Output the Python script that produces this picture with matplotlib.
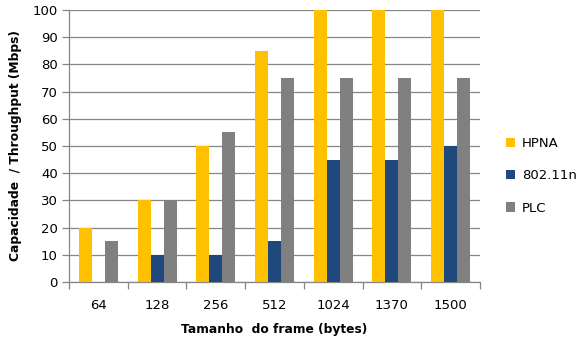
import matplotlib
matplotlib.use("Agg")
import matplotlib.pyplot as plt
import numpy as np

frame_sizes = ["64", "128", "256", "512", "1024", "1370", "1500"]
hpna = [20, 30, 50, 85, 100, 100, 100]
wifi_n = [0, 10, 10, 15, 45, 45, 50]
plc = [15, 30, 55, 75, 75, 75, 75]
series_names = ["HPNA", "802.11n", "PLC"]
colors = ["#FFC000", "#1F497D", "#808080"]

plt.rcParams['font.family'] = ['DejaVu Sans']

fig = plt.figure(figsize=(5.78, 3.44), dpi=100)
ax = fig.add_axes([69/578, 1 - 282/344, (480-69)/578, (282-10)/344])

x = np.arange(len(frame_sizes))
w = 0.222
for i, (vals, name, c) in enumerate(zip([hpna, wifi_n, plc], series_names, colors)):
    ax.bar(x + (i - 1) * w, vals, width=w, color=c, label=name, zorder=3)

ax.set_xlim(-0.5, len(frame_sizes) - 0.5)
ax.set_ylim(0, 100)
ax.set_yticks(np.arange(0, 101, 10))
ax.yaxis.grid(True, color="#868686", linewidth=0.9, zorder=0)
ax.set_axisbelow(True)

# category labels centred, tick marks on group boundaries
ax.set_xticks(x)
ax.set_xticklabels(frame_sizes, fontsize=9.5)
ax.tick_params(axis="x", which="major", length=0, pad=12)
ax.set_xticks(np.arange(-0.5, len(frame_sizes), 1), minor=True)
ax.tick_params(axis="x", which="minor", length=5, color="#868686", width=0.9)
ax.tick_params(axis="y", length=5, color="#868686", width=0.9, labelsize=9.5, pad=3)

for s in ["top", "right"]:
    ax.spines[s].set_visible(False)
for s in ["left", "bottom"]:
    ax.spines[s].set_color("#868686")
    ax.spines[s].set_linewidth(0.9)

ax.set_ylabel("Capacidade  / Throughput (Mbps)", fontsize=8.8, fontweight="bold", labelpad=8)
ax.set_xlabel("Tamanho  do frame (bytes)", fontsize=8.8, fontweight="bold", labelpad=8)

ax.legend(loc="center left", bbox_to_anchor=(1.035, 0.39), frameon=False,
          fontsize=9.5, handlelength=0.7, handleheight=0.7, handletextpad=0.5,
          labelspacing=1.45)

fig.savefig("out.png", dpi=100)
